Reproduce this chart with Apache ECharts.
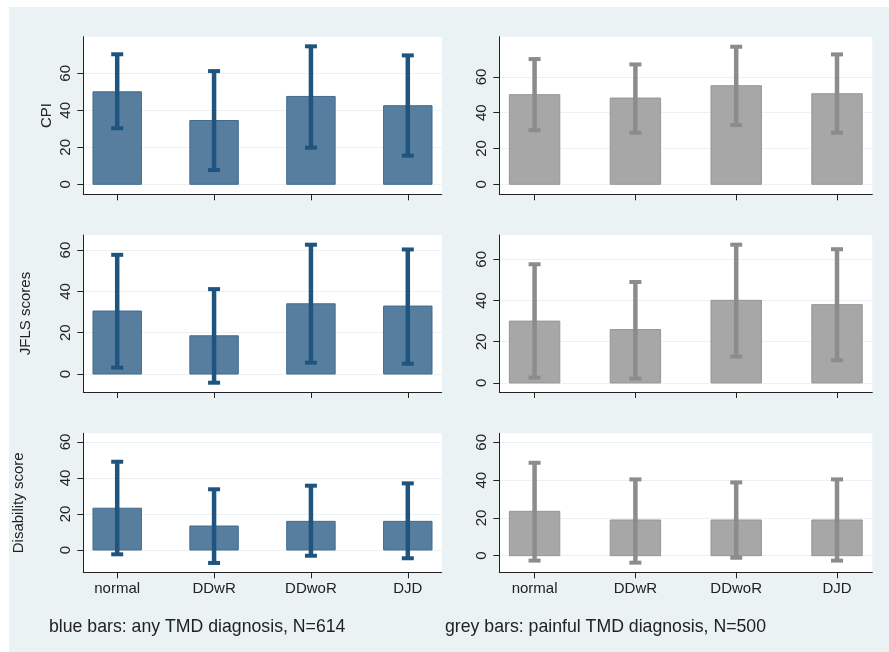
<!DOCTYPE html>
<html>
<head>
<meta charset="utf-8">
<script src="https://cdn.jsdelivr.net/npm/echarts@6/dist/echarts.min.js"></script>
<style>
html,body{margin:0;padding:0;background:#fff;}
#c{width:889px;height:652px;}
</style>
</head>
<body>
<div id="c"></div>
<script>
// ---- data ----
const categories = ['normal', 'DDwR', 'DDwoR', 'DJD'];
const yTicks = [0, 20, 40, 60];
const xPositions = [1, 2, 3, 4];

const cpiBlueMean = [50.0, 34.5, 47.5, 42.5];
const cpiBlueLow  = [30.3, 7.7, 19.8, 15.5];
const cpiBlueHigh = [70.3, 61.2, 74.6, 69.7];

const cpiGreyMean = [50.1, 48.2, 55.1, 50.6];
const cpiGreyLow  = [30.2, 28.8, 33.1, 28.8];
const cpiGreyHigh = [70.0, 67.0, 76.9, 72.6];

const jflsBlueMean = [30.5, 18.5, 34.0, 32.9];
const jflsBlueLow  = [3.1, -4.2, 5.5, 5.0];
const jflsBlueHigh = [57.7, 41.1, 62.6, 60.3];

const jflsGreyMean = [30.0, 25.9, 40.1, 38.0];
const jflsGreyLow  = [2.6, 2.1, 12.8, 11.0];
const jflsGreyHigh = [57.6, 49.0, 67.1, 64.9];

const disBlueMean = [23.2, 13.3, 15.9, 15.9];
const disBlueLow  = [-2.4, -7.2, -3.2, -4.6];
const disBlueHigh = [49.0, 33.7, 35.7, 37.0];

const disGreyMean = [23.5, 18.9, 18.9, 18.9];
const disGreyLow  = [-2.6, -3.7, -1.1, -2.6];
const disGreyHigh = [49.2, 40.4, 38.8, 40.4];

// axis extents per panel (TL, TR, ML, MR, BL, BR)
const yMin = [-5.4, -5.6, -8.7, -4.4, -12.4, -8.8];
const yMax = [79.8, 82.5, 67.3, 71.8, 64.8, 64.8];
const yTitles = ['CPI', '', 'JFLS scores', '', 'Disability score', ''];
const footLeft = 'blue bars: any TMD diagnosis, N=614';
const footRight = 'grey bars: painful TMD diagnosis, N=500';

// ---- layout / style ----
const FONT = '"Liberation Sans", Arial, sans-serif';
const TXT = '#222';
const colLeft = {left: 83.3, width: 358.4};
const colRight = {left: 499.3, width: 373};
const rows = [{top: 36.7, height: 157.6}, {top: 235, height: 157}, {top: 433.3, height: 139}];
const nameGaps = [29, 0, 50, 0, 57, 0];

const blueStyle = {fill: '#587E9F', stroke: '#3F6B8F', err: '#1F547E'};
const greyStyle = {fill: '#A7A7A7', stroke: '#959595', err: '#8C8C8C'};

const panels = [
  {mean: cpiBlueMean, low: cpiBlueLow, high: cpiBlueHigh, st: blueStyle},
  {mean: cpiGreyMean, low: cpiGreyLow, high: cpiGreyHigh, st: greyStyle},
  {mean: jflsBlueMean, low: jflsBlueLow, high: jflsBlueHigh, st: blueStyle},
  {mean: jflsGreyMean, low: jflsGreyLow, high: jflsGreyHigh, st: greyStyle},
  {mean: disBlueMean, low: disBlueLow, high: disBlueHigh, st: blueStyle},
  {mean: disGreyMean, low: disGreyLow, high: disGreyHigh, st: greyStyle}
];

const grids = [], xAxes = [], yAxes = [], series = [];
panels.forEach((p, i) => {
  const col = (i % 2 === 0) ? colLeft : colRight;
  const row = rows[Math.floor(i / 2)];
  const bottomRow = Math.floor(i / 2) === 2;
  grids.push({
    left: col.left, width: col.width, top: row.top, height: row.height,
    show: true, backgroundColor: '#ffffff', borderWidth: 0, containLabel: false
  });
  xAxes.push({
    type: 'value', gridIndex: i, min: 0.65, max: 4.35,
    axisLine: {show: true, onZero: false, lineStyle: {color: '#222', width: 1}},
    axisTick: {show: true, length: 6, customValues: xPositions, lineStyle: {color: '#222'}},
    axisLabel: {
      show: bottomRow, customValues: xPositions, margin: 9,
      fontSize: 15, fontFamily: FONT, color: TXT,
      formatter: v => categories[Math.round(v) - 1]
    },
    splitLine: {show: false}
  });
  yAxes.push({
    type: 'value', gridIndex: i, min: yMin[i], max: yMax[i],
    name: yTitles[i], nameLocation: 'middle', nameRotate: 90, nameGap: nameGaps[i],
    nameTextStyle: {fontSize: 15, fontFamily: FONT, color: TXT},
    axisLine: {show: true, onZero: false, lineStyle: {color: '#222', width: 1}},
    axisTick: {show: true, length: 6, customValues: yTicks, lineStyle: {color: '#222'}},
    axisLabel: {
      customValues: yTicks, rotate: 90, margin: 10,
      fontSize: 15, fontFamily: FONT, color: TXT
    },
    splitLine: {show: true, lineStyle: {color: '#EAF2F3', width: 1}}
  });
  const st = p.st;
  series.push({
    type: 'custom', xAxisIndex: i, yAxisIndex: i, clip: false,
    data: xPositions.map((x, k) => [x, p.mean[k], p.low[k], p.high[k]]),
    encode: {x: 0, y: [1, 2, 3]},
    renderItem: function (params, api) {
      const x = api.value(0), m = api.value(1), lo = api.value(2), hi = api.value(3);
      const tl = api.coord([x - 0.25, m]);
      const br = api.coord([x + 0.25, 0]);
      const a = api.coord([x, lo]);
      const b = api.coord([x, hi]);
      const cap = 6;
      return {
        type: 'group',
        children: [
          {type: 'rect', shape: {x: tl[0], y: tl[1], width: br[0] - tl[0], height: br[1] - tl[1]},
           style: {fill: st.fill, stroke: st.stroke, lineWidth: 1}},
          {type: 'line', shape: {x1: a[0], y1: a[1], x2: b[0], y2: b[1]},
           style: {stroke: st.err, lineWidth: 4.5}},
          {type: 'line', shape: {x1: a[0] - cap, y1: a[1], x2: a[0] + cap, y2: a[1]},
           style: {stroke: st.err, lineWidth: 4}},
          {type: 'line', shape: {x1: b[0] - cap, y1: b[1], x2: b[0] + cap, y2: b[1]},
           style: {stroke: st.err, lineWidth: 4}}
        ]
      };
    }
  });
});

const chart = echarts.init(document.getElementById('c'), null, {renderer: 'canvas'});
chart.setOption({
  backgroundColor: '#ffffff',
  animation: false,
  grid: grids,
  xAxis: xAxes,
  yAxis: yAxes,
  series: series,
  graphic: {
    elements: [
      {type: 'rect', z: -100, silent: true,
       shape: {x: 9, y: 7, width: 880, height: 645}, style: {fill: '#EAF2F3'}},
      {type: 'text', left: 49, top: 618, silent: true,
       style: {text: footLeft, fontSize: 17.7, fontFamily: FONT, fill: TXT}},
      {type: 'text', left: 445, top: 618, silent: true,
       style: {text: footRight, fontSize: 17.7, fontFamily: FONT, fill: TXT}}
    ]
  }
});
</script>
</body>
</html>
